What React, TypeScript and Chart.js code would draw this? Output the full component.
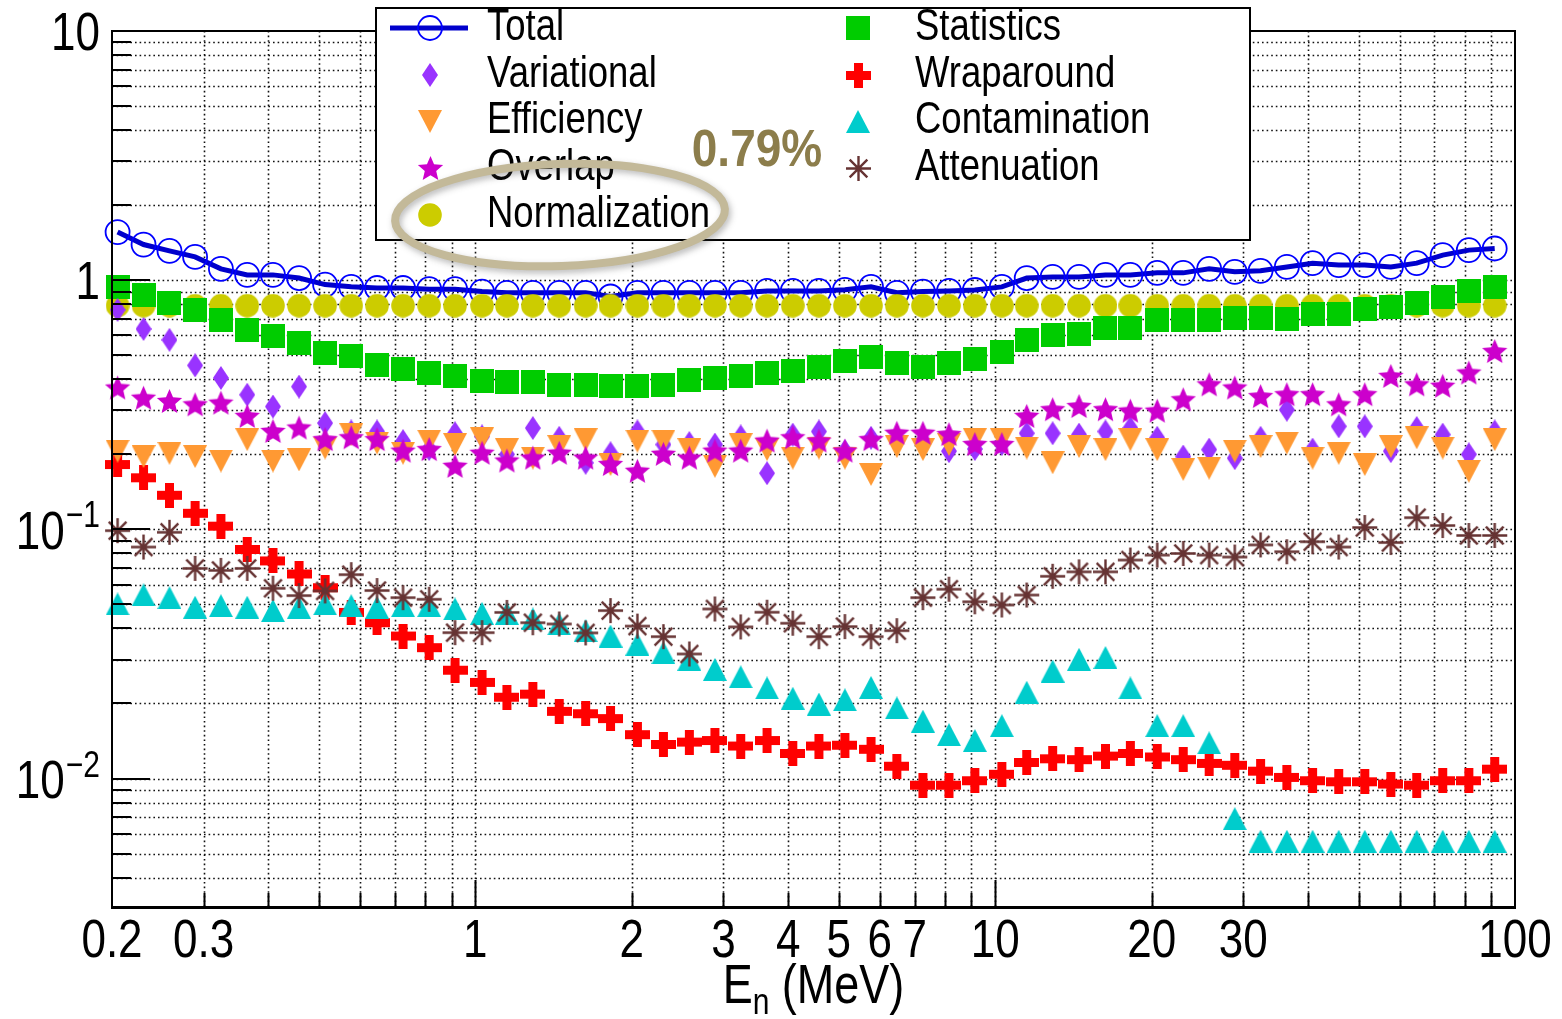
import { useEffect, useRef } from 'react';
import { Chart, registerables } from 'chart.js';

Chart.register(...registerables);

// Neutron energy bin centres (MeV)
const energyMeV = [
  0.205, 0.230, 0.258, 0.289, 0.324, 0.364, 0.408, 0.458, 0.514, 0.577,
  0.647, 0.726, 0.815, 0.914, 1.03, 1.15, 1.29, 1.45, 1.63, 1.82,
  2.05, 2.30, 2.58, 2.89, 3.24, 3.64, 4.08, 4.58, 5.14, 5.77,
  6.47, 7.26, 8.15, 9.14, 10.3, 11.5, 12.9, 14.5, 16.3, 18.2,
  20.5, 23.0, 25.8, 28.9, 32.4, 36.4, 40.8, 45.8, 51.4, 57.7,
  64.7, 72.6, 81.5, 91.4,
];

// Relative uncertainties (%)
const totalUnc = [
  1.56, 1.39, 1.31, 1.24, 1.11, 1.05, 1.05, 1.02, 0.96, 0.94,
  0.93, 0.93, 0.92, 0.92, 0.90, 0.89, 0.89, 0.89, 0.89, 0.86,
  0.89, 0.89, 0.89, 0.89, 0.89, 0.905, 0.905, 0.905, 0.915, 0.94,
  0.89, 0.90, 0.905, 0.913, 0.94, 1.02, 1.03, 1.03, 1.05, 1.05,
  1.07, 1.07, 1.11, 1.08, 1.09, 1.13, 1.17, 1.15, 1.15, 1.13,
  1.17, 1.26, 1.32, 1.34,
];

const statisticsUnc = [
  0.94, 0.872, 0.813, 0.76, 0.693, 0.632, 0.598, 0.558, 0.509, 0.498,
  0.457, 0.441, 0.424, 0.411, 0.395, 0.389, 0.389, 0.38, 0.38, 0.375,
  0.375, 0.38, 0.396, 0.405, 0.411, 0.424, 0.433, 0.45, 0.475, 0.491,
  0.464, 0.45, 0.464, 0.483, 0.517, 0.576, 0.60, 0.61, 0.641, 0.641,
  0.693, 0.693, 0.693, 0.703, 0.703, 0.70, 0.73, 0.73, 0.767, 0.783,
  0.81, 0.859, 0.905, 0.94,
];

const normalizationUnc = [
  0.79, 0.79, 0.79, 0.79, 0.79, 0.79, 0.79, 0.79, 0.79, 0.79,
  0.79, 0.79, 0.79, 0.79, 0.79, 0.79, 0.79, 0.79, 0.79, 0.79,
  0.79, 0.79, 0.79, 0.79, 0.79, 0.79, 0.79, 0.79, 0.79, 0.79,
  0.79, 0.79, 0.79, 0.79, 0.79, 0.79, 0.79, 0.79, 0.79, 0.79,
  0.79, 0.79, 0.79, 0.79, 0.79, 0.79, 0.79, 0.79, 0.79, 0.79,
  0.79, 0.79, 0.79, 0.79,
];

const variationalUnc = [
  0.76, 0.637, 0.576, 0.455, 0.405, 0.347, 0.311, 0.374, 0.267, 0.247,
  0.247, 0.226, 0.21, 0.243, 0.236, 0.20, 0.255, 0.233, 0.185, 0.202,
  0.247, 0.219, 0.222, 0.219, 0.236, 0.168, 0.24, 0.247, 0.206, 0.233,
  0.23, 0.22, 0.206, 0.21, 0.22, 0.243, 0.243, 0.24, 0.247, 0.255,
  0.233, 0.196, 0.209, 0.193, 0.233, 0.302, 0.209, 0.259, 0.259, 0.206,
  0.255, 0.24, 0.20, 0.247,
];

const overlapUnc = [
  0.369, 0.336, 0.326, 0.316, 0.321, 0.284, 0.247, 0.255, 0.229, 0.233,
  0.229, 0.206, 0.209, 0.179, 0.202, 0.188, 0.193, 0.202, 0.193, 0.182,
  0.171, 0.20, 0.193, 0.206, 0.206, 0.226, 0.233, 0.226, 0.206, 0.229,
  0.243, 0.243, 0.24, 0.219, 0.219, 0.284, 0.302, 0.311, 0.302, 0.298,
  0.298, 0.331, 0.38, 0.369, 0.341, 0.347, 0.347, 0.316, 0.347, 0.411,
  0.38, 0.375, 0.424, 0.517,
];

const efficiencyUnc = [
  0.206, 0.196, 0.202, 0.196, 0.188, 0.229, 0.188, 0.19, 0.212, 0.24,
  0.222, 0.202, 0.226, 0.219, 0.231, 0.209, 0.193, 0.215, 0.229, 0.182,
  0.226, 0.226, 0.209, 0.179, 0.219, 0.209, 0.193, 0.212, 0.193, 0.166,
  0.215, 0.209, 0.219, 0.229, 0.229, 0.212, 0.185, 0.215, 0.209, 0.229,
  0.209, 0.174, 0.176, 0.206, 0.215, 0.222, 0.193, 0.202, 0.182, 0.215,
  0.233, 0.212, 0.171, 0.229,
];

const wraparoundUnc = [
  0.182, 0.161, 0.137, 0.116, 0.103, 0.083, 0.0747, 0.0662, 0.0583, 0.0464,
  0.0422, 0.0373, 0.0335, 0.0272, 0.0243, 0.0212, 0.0218, 0.0186, 0.0182, 0.0174,
  0.015, 0.0137, 0.014, 0.0142, 0.0135, 0.0142, 0.0126, 0.0135, 0.0136, 0.0131,
  0.0112, 0.0094, 0.0094, 0.0098, 0.0104, 0.0116, 0.012, 0.0119, 0.0123, 0.0126,
  0.0122, 0.0119, 0.0115, 0.0113, 0.0107, 0.0101, 0.0098, 0.0097, 0.0097, 0.0095,
  0.0094, 0.0098, 0.0098, 0.0109,
];

const contaminationUnc = [
  0.0502, 0.0546, 0.0532, 0.0487, 0.0494, 0.0487, 0.0472, 0.0487, 0.0502, 0.0494,
  0.0487, 0.0494, 0.0494, 0.0479, 0.046, 0.046, 0.0437, 0.0417, 0.0392, 0.0373,
  0.0346, 0.032, 0.0301, 0.0274, 0.0256, 0.0231, 0.021, 0.0199, 0.0207, 0.0232,
  0.0192, 0.017, 0.015, 0.0142, 0.0163, 0.0222, 0.027, 0.0301, 0.0306, 0.0231,
  0.0163, 0.0163, 0.0139, 0.0069, 0.0056, 0.0056, 0.0056, 0.0056, 0.0056, 0.0056,
  0.0056, 0.0056, 0.0056, 0.0056,
];

const attenuationUnc = [
  0.0988, 0.0849, 0.0973, 0.0697, 0.0684, 0.0697, 0.058, 0.0542, 0.0566, 0.0658,
  0.0568, 0.0532, 0.0524, 0.0385, 0.0385, 0.0464, 0.0422, 0.0417, 0.0384, 0.0472,
  0.0409, 0.0371, 0.0316, 0.0479, 0.0406, 0.0465, 0.042, 0.0371, 0.0407, 0.0371,
  0.0392, 0.0532, 0.0575, 0.0512, 0.0497, 0.0545, 0.0648, 0.0675, 0.0675, 0.0753,
  0.0788, 0.08, 0.0788, 0.0774, 0.0866, 0.0813, 0.0892, 0.0849, 0.1017, 0.0885,
  0.1114, 0.1036, 0.0945, 0.0945,
];

// Axis ranges and labels
const X_MIN = 0.2;
const X_MAX = 100;
const Y_MIN = 0.00305;
const Y_MAX = 10;
const xLabelValues = [0.2, 0.3, 1, 2, 3, 4, 5, 6, 7, 10, 20, 30, 100];
const xLabelTexts = ['0.2', '0.3', '1', '2', '3', '4', '5', '6', '7', '10', '20', '30', '100'];
const yLabelValues = [10, 1, 0.1, 0.01];
const yLabelBases = ['10', '1', '10', '10'];
const yLabelExps = ['', '', '\u22121', '\u22122'];

const normalizationNote = '0.79%';

const FONT = '"Liberation Sans", Arial, Helvetica, sans-serif';
const TEXT_STRETCH = 1.22;

type Markers = Record<string, HTMLCanvasElement>;

function markerCanvas(w: number, h: number, paint: (g: CanvasRenderingContext2D) => void) {
  const c = document.createElement('canvas');
  c.width = w;
  c.height = h;
  const g = c.getContext('2d') as CanvasRenderingContext2D;
  paint(g);
  return c;
}

function buildMarkers(): Markers {
  return {
    square: markerCanvas(24, 24, (g) => {
      g.fillStyle = '#00CC00';
      g.fillRect(0, 0, 24, 24);
    }),
    dot: markerCanvas(24, 24, (g) => {
      g.fillStyle = '#CCCC00';
      g.beginPath();
      g.arc(12, 12, 11.8, 0, Math.PI * 2);
      g.fill();
    }),
    diamond: markerCanvas(16, 24, (g) => {
      g.fillStyle = '#9933FF';
      g.beginPath();
      g.moveTo(8, 0);
      g.lineTo(16, 12);
      g.lineTo(8, 24);
      g.lineTo(0, 12);
      g.closePath();
      g.fill();
    }),
    plus: markerCanvas(25, 25, (g) => {
      g.fillStyle = '#FF0000';
      g.fillRect(0, 8, 25, 9);
      g.fillRect(8, 0, 9, 25);
    }),
    triDown: markerCanvas(24, 23, (g) => {
      g.fillStyle = '#FF9933';
      g.beginPath();
      g.moveTo(0, 0);
      g.lineTo(24, 0);
      g.lineTo(12, 23);
      g.closePath();
      g.fill();
    }),
    triUp: markerCanvas(24, 23, (g) => {
      g.fillStyle = '#00CCCC';
      g.beginPath();
      g.moveTo(12, 0);
      g.lineTo(24, 23);
      g.lineTo(0, 23);
      g.closePath();
      g.fill();
    }),
    star: markerCanvas(27, 27, (g) => {
      g.fillStyle = '#CC00CC';
      g.beginPath();
      for (let k = 0; k < 10; k++) {
        const r = k % 2 === 0 ? 13.3 : 6.0;
        const a = -Math.PI / 2 + (k * Math.PI) / 5;
        g.lineTo(13.5 + r * Math.cos(a), 14.2 + r * Math.sin(a));
      }
      g.closePath();
      g.fill();
    }),
    asterisk: markerCanvas(27, 27, (g) => {
      g.strokeStyle = '#663333';
      g.lineWidth = 2.4;
      g.beginPath();
      for (let k = 0; k < 4; k++) {
        const a = (k * Math.PI) / 4;
        const dx = 12.5 * Math.cos(a);
        const dy = 12.5 * Math.sin(a);
        g.moveTo(13.5 - dx, 13.5 - dy);
        g.lineTo(13.5 + dx, 13.5 + dy);
      }
      g.stroke();
      g.fillStyle = '#663333';
      g.beginPath();
      g.arc(13.5, 13.5, 2.6, 0, Math.PI * 2);
      g.fill();
    }),
  };
}

function drawText(
  ctx: CanvasRenderingContext2D,
  text: string,
  x: number,
  y: number,
  size: number,
  align: CanvasTextAlign,
  opts: { bold?: boolean; color?: string; stretch?: number } = {},
) {
  ctx.save();
  ctx.translate(x, y);
  ctx.scale(1, opts.stretch ?? TEXT_STRETCH);
  ctx.font = `${opts.bold ? 'bold ' : ''}${size}px ${FONT}`;
  ctx.fillStyle = opts.color ?? '#000';
  ctx.textAlign = align;
  ctx.textBaseline = 'middle';
  ctx.fillText(text, 0, 0);
  ctx.restore();
}

function textWidth(ctx: CanvasRenderingContext2D, text: string, size: number) {
  ctx.save();
  ctx.font = `${size}px ${FONT}`;
  const w = ctx.measureText(text).width;
  ctx.restore();
  return w;
}

function logGrid(min: number, max: number) {
  const out: number[] = [];
  for (let e = -4; e <= 2; e++) {
    for (let k = 1; k <= 9; k++) {
      const v = k * Math.pow(10, e);
      if (v > min * 1.0001 && v < max * 0.9999) out.push(+v.toPrecision(3));
    }
  }
  return out;
}

const isDecade = (v: number) => Math.abs(Math.log10(v) - Math.round(Math.log10(v))) < 1e-6;

export default function App() {
  const canvasRef = useRef<HTMLCanvasElement | null>(null);

  useEffect(() => {
    const canvas = canvasRef.current;
    if (!canvas) return;
    const mk = buildMarkers();
    const pts = (vals: number[]) => energyMeV.map((e, i) => ({ x: e, y: vals[i] }));
    const markerSet = (label: string, vals: number[], style: HTMLCanvasElement, order: number) => ({
      label,
      data: pts(vals),
      showLine: false,
      pointStyle: style,
      pointRadius: 12,
      pointHoverRadius: 12,
      order,
      clip: false as const,
    });

    const legendLeft: [string, string][] = [
      ['Total', 'total'],
      ['Variational', 'diamond'],
      ['Efficiency', 'triDown'],
      ['Overlap', 'star'],
      ['Normalization', 'dot'],
    ];
    const legendRight: [string, string][] = [
      ['Statistics', 'square'],
      ['Wraparound', 'plus'],
      ['Contamination', 'triUp'],
      ['Attenuation', 'asterisk'],
    ];

    const frame = {
      id: 'rootFrame',
      beforeDatasetsDraw(chart: Chart) {
        const { ctx, chartArea: a } = chart;
        const xs = chart.scales.x;
        const ys = chart.scales.y;
        ctx.save();
        ctx.strokeStyle = '#111';
        ctx.lineWidth = 1.6;
        ctx.setLineDash([1.6, 3.0]);
        for (const v of logGrid(X_MIN, X_MAX)) {
          const px = Math.round(xs.getPixelForValue(v)) + 0.5;
          ctx.beginPath();
          ctx.moveTo(px, a.top);
          ctx.lineTo(px, a.bottom);
          ctx.stroke();
        }
        for (const v of logGrid(Y_MIN, Y_MAX)) {
          const py = Math.round(ys.getPixelForValue(v)) + 0.5;
          ctx.beginPath();
          ctx.moveTo(a.left, py);
          ctx.lineTo(a.right, py);
          ctx.stroke();
        }
        ctx.restore();
      },
      afterDatasetsDraw(chart: Chart) {
        const { ctx, chartArea: a } = chart;
        const xs = chart.scales.x;
        const ys = chart.scales.y;
        ctx.save();
        // axis ticks
        ctx.strokeStyle = '#000';
        ctx.lineWidth = 2;
        for (const v of logGrid(X_MIN, X_MAX)) {
          const px = Math.round(xs.getPixelForValue(v)) + 0.5;
          const len = isDecade(v) ? 27 : 14;
          ctx.beginPath();
          ctx.moveTo(px, a.bottom);
          ctx.lineTo(px, a.bottom - len);
          ctx.stroke();
        }
        for (const v of logGrid(Y_MIN, Y_MAX)) {
          const py = Math.round(ys.getPixelForValue(v));
          const len = isDecade(v) ? 38 : 19;
          ctx.beginPath();
          ctx.moveTo(a.left, py);
          ctx.lineTo(a.left + len, py);
          ctx.stroke();
        }
        // frame
        ctx.lineWidth = 2;
        ctx.strokeRect(a.left, a.top, a.right - a.left, a.bottom - a.top);
        ctx.lineWidth = 3;
        ctx.beginPath();
        ctx.moveTo(a.left - 1, a.bottom + 0.5);
        ctx.lineTo(a.right + 1, a.bottom + 0.5);
        ctx.stroke();

        // x tick labels
        xLabelValues.forEach((v, i) => {
          drawText(ctx, xLabelTexts[i], xs.getPixelForValue(v), 942, 44, 'center');
        });
        // y tick labels with exponents
        yLabelValues.forEach((v, i) => {
          const py = ys.getPixelForValue(v);
          const exp = yLabelExps[i];
          const right = 100;
          if (exp) {
            const we = textWidth(ctx, exp, 30);
            drawText(ctx, exp, right, py - 12, 30, 'right');
            drawText(ctx, yLabelBases[i], right - we - 1, py + 5, 44, 'right');
          } else {
            drawText(ctx, yLabelBases[i], right, py + 4, 44, 'right');
          }
        });
        // x axis title: E_n (MeV)
        {
          const wE = textWidth(ctx, 'E', 45);
          const wn = textWidth(ctx, 'n', 30);
          const wr = textWidth(ctx, ' (MeV)', 45);
          const cx = (a.left + a.right) / 2;
          let x0 = cx - (wE + wn + wr) / 2;
          drawText(ctx, 'E', x0, 988, 45, 'left');
          x0 += wE;
          drawText(ctx, 'n', x0, 1004, 30, 'left');
          x0 += wn;
          drawText(ctx, ' (MeV)', x0, 988, 45, 'left');
        }

        // legend box
        const L = { x0: 376, y0: 8, x1: 1250, y1: 240 };
        const rows = [28, 75, 121, 168, 215];
        ctx.fillStyle = '#fff';
        ctx.fillRect(L.x0, L.y0, L.x1 - L.x0, L.y1 - L.y0);
        ctx.lineWidth = 2;
        ctx.strokeStyle = '#000';
        ctx.strokeRect(L.x0, L.y0, L.x1 - L.x0, L.y1 - L.y0);
        const drawEntry = (label: string, key: string, mx: number, tx: number, y: number) => {
          if (key === 'total') {
            ctx.strokeStyle = '#0000CC';
            ctx.lineWidth = 5;
            ctx.beginPath();
            ctx.moveTo(mx - 40, y);
            ctx.lineTo(mx + 38, y);
            ctx.stroke();
            ctx.strokeStyle = '#0000FF';
            ctx.lineWidth = 1.8;
            ctx.beginPath();
            ctx.arc(mx, y, 12, 0, Math.PI * 2);
            ctx.stroke();
          } else {
            const c = mk[key];
            ctx.drawImage(c, Math.round(mx - c.width / 2), Math.round(y - c.height / 2));
          }
          drawText(ctx, label, tx, y, 36.5, 'left');
        };
        legendLeft.forEach(([label, key], i) => drawEntry(label, key, 430, 487, rows[i]));
        legendRight.forEach(([label, key], i) => drawEntry(label, key, 858, 915, rows[i]));

        // highlighted normalization value
        drawText(ctx, normalizationNote, 757, 152, 46, 'center', { bold: true, color: '#8C7D4B', stretch: 1.12 });
        ctx.save();
        ctx.translate(560, 215);
        ctx.rotate(-0.035);
        ctx.shadowColor = 'rgba(60,60,60,0.35)';
        ctx.shadowBlur = 6;
        ctx.shadowOffsetX = 2;
        ctx.shadowOffsetY = 3;
        ctx.strokeStyle = '#C3B999';
        ctx.lineWidth = 8;
        ctx.beginPath();
        ctx.ellipse(0, 0, 165, 51, 0, 0, Math.PI * 2);
        ctx.stroke();
        ctx.restore();

        ctx.restore();
      },
    };

    const chart = new Chart(canvas, {
      type: 'scatter',
      data: {
        datasets: [
          {
            label: 'Total',
            data: pts(totalUnc),
            showLine: true,
            borderColor: '#0000CC',
            borderWidth: 5,
            tension: 0,
            pointStyle: 'circle',
            pointRadius: 12,
            pointHoverRadius: 12,
            pointBorderColor: '#0000FF',
            pointBorderWidth: 1.8,
            pointBackgroundColor: 'rgba(0,0,0,0)',
            order: 9,
            clip: false,
          },
          markerSet('Normalization', normalizationUnc, mk.dot, 8),
          markerSet('Statistics', statisticsUnc, mk.square, 7),
          markerSet('Variational', variationalUnc, mk.diamond, 6),
          markerSet('Wraparound', wraparoundUnc, mk.plus, 5),
          markerSet('Efficiency', efficiencyUnc, mk.triDown, 4),
          markerSet('Contamination', contaminationUnc, mk.triUp, 3),
          markerSet('Overlap', overlapUnc, mk.star, 2),
          markerSet('Attenuation', attenuationUnc, mk.asterisk, 1),
        ] as any,
      },
      options: {
        animation: false,
        responsive: false,
        events: [],
        layout: { padding: { left: 112, right: 47, top: 31, bottom: 112 } },
        plugins: { legend: { display: false }, tooltip: { enabled: false } },
        scales: {
          x: { type: 'logarithmic', min: X_MIN, max: X_MAX, display: false },
          y: { type: 'logarithmic', min: Y_MIN, max: Y_MAX, display: false },
        },
      },
      plugins: [frame as any],
    });
    return () => chart.destroy();
  }, []);

  return (
    <div style={{ position: 'fixed', left: 0, top: 0, width: 1562, height: 1019, background: '#fff' }}>
      <canvas ref={canvasRef} width={1562} height={1019} style={{ display: 'block' }} />
    </div>
  );
}
